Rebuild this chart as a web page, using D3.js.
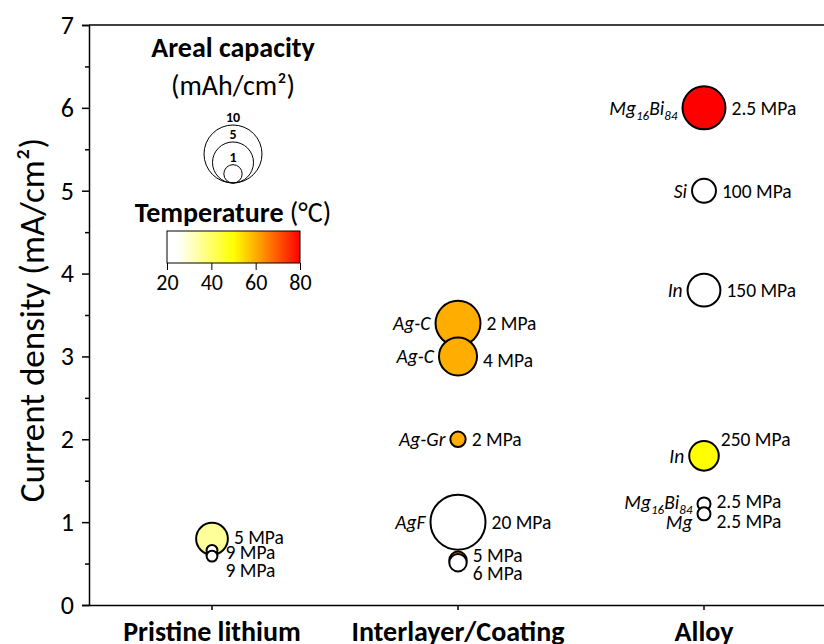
<!DOCTYPE html>
<html>
<head>
<meta charset="utf-8">
<script src="https://cdn.jsdelivr.net/npm/d3@7"></script>
<style>
  html, body { margin: 0; padding: 0; background: #fff; }
  svg { display: block; font-family: Calibri, Carlito, Lato, sans-serif; }
</style>
</head>
<body>
<svg id="chart" width="824" height="644"></svg>
<script>
// ---------------- data ----------------
const categories = ["Pristine lithium", "Interlayer/Coating", "Alloy"];
const pointCategory = [
  "Pristine lithium", "Pristine lithium", "Pristine lithium",
  "Interlayer/Coating", "Interlayer/Coating", "Interlayer/Coating", "Interlayer/Coating", "Interlayer/Coating", "Interlayer/Coating",
  "Alloy", "Alloy", "Alloy", "Alloy", "Alloy", "Alloy"
];
const currentDensity = [0.80, 0.66, 0.59, 3.40, 3.00, 2.00, 1.00, 0.54, 0.51, 6.00, 5.00, 3.80, 1.80, 1.22, 1.10];
const arealCapacity  = [3.0, 0.35, 0.35, 6.0, 4.3, 0.7, 9.0, 0.9, 0.9, 5.5, 1.7, 3.2, 2.6, 0.5, 0.5];
const temperature    = [35, 25, 25, 60, 60, 60, 25, 60, 25, 80, 25, 25, 50, 25, 25];
const pressureLabel  = ["5 MPa", "9 MPa", "9 MPa", "2 MPa", "4 MPa", "2 MPa", "20 MPa", "5 MPa", "6 MPa",
                        "2.5 MPa", "100 MPa", "150 MPa", "250 MPa", "2.5 MPa", "2.5 MPa"];
const materialLabel  = ["", "", "", "Ag-C", "Ag-C", "Ag-Gr", "AgF", "", "",
                        "Mg_16Bi_84", "Si", "In", "In", "Mg_16Bi_84", "Mg"];
const yTicks = [0, 1, 2, 3, 4, 5, 6, 7];
const capacityLegend = [10, 5, 1];
const tempTicks = [20, 40, 60, 80];

// label placement tweaks (layout only, px)
const labelNudge = { 0: [0, -2], 1: [2, 2], 2: [2, 14], 4: [0, 4], 7: [0, -5], 8: [0, 10],
                     12: [-4, -17], 13: [0, -3], 14: [0, 7] };
const materialNudge = { 13: -2, 14: 8 };

// ---------------- layout ----------------
const FONT = "Calibri, Carlito, Lato, sans-serif";
const svg = d3.select("#chart");
const M = { left: 89, top: 25, right: 827, bottom: 605 };

const x = d3.scaleBand().domain(categories).range([M.left, M.right]).padding(0);
const y = d3.scaleLinear().domain([0, 7]).range([M.bottom, M.top]);
const r = d3.scaleSqrt().domain([0, 10]).range([0, 29]);
const color = d3.scaleLinear()
  .domain([20, 25, 50, 60, 80])
  .range(["#ffffff", "#ffffff", "#ffff00", "#ffae00", "#ff0000"])
  .clamp(true);

// frame top line
svg.append("line")
  .attr("x1", M.left).attr("x2", M.right).attr("y1", M.top).attr("y2", M.top)
  .attr("stroke", "#000").attr("stroke-width", 1.5);

// y axis
const yAxis = d3.axisLeft(y).tickValues(yTicks).tickSize(7).tickPadding(8).tickFormat(d3.format("d"));
const gy = svg.append("g").attr("transform", `translate(${M.left},0)`).call(yAxis);
gy.select(".domain").attr("stroke-width", 1.5);
gy.selectAll(".tick line").attr("stroke-width", 1.5);
gy.selectAll(".tick text").attr("font-size", 26).attr("font-family", FONT).attr("fill", "#000");
const minorVals = d3.range(0.5, 7, 1);
svg.append("g").attr("transform", `translate(${M.left},0)`)
  .call(d3.axisLeft(y).tickValues(minorVals).tickSize(4).tickFormat(""))
  .call(g => g.select(".domain").remove())
  .selectAll(".tick line").attr("stroke-width", 1.5);

// x axis
const xAxis = d3.axisBottom(x).tickSize(5).tickSizeOuter(0).tickFormat("");
const gx = svg.append("g").attr("transform", `translate(0,${M.bottom})`).call(xAxis);
gx.select(".domain").attr("stroke-width", 1.5);
gx.selectAll(".tick line").attr("stroke-width", 1.5);
svg.append("g").selectAll("text").data(categories).join("text")
  .attr("x", d => x(d) + x.bandwidth() / 2)
  .attr("y", 641)
  .attr("text-anchor", "middle")
  .attr("font-size", 28).attr("font-weight", "bold")
  .text(d => d);

// y axis title
svg.append("text")
  .attr("transform", "translate(44,320) rotate(-90)")
  .attr("text-anchor", "middle")
  .attr("font-size", 35)
  .text("Current density (mA/cm²)");

// ---------------- bubbles ----------------
const pts = currentDensity.map((v, i) => ({
  i, cat: pointCategory[i], v, cap: arealCapacity[i], t: temperature[i],
  p: pressureLabel[i], m: materialLabel[i]
}));
const cx = d => x(d.cat) + x.bandwidth() / 2;

const gb = svg.append("g");
gb.selectAll("circle").data(pts).join("circle")
  .attr("cx", cx).attr("cy", d => y(d.v)).attr("r", d => r(d.cap))
  .attr("fill", d => color(d.t))
  .attr("stroke", "#000").attr("stroke-width", 2);

// pressure labels
gb.selectAll("text.p").data(pts).join("text").attr("class", "p")
  .attr("x", d => cx(d) + r(d.cap) + 6 + (labelNudge[d.i] ? labelNudge[d.i][0] : 0))
  .attr("y", d => y(d.v) + (labelNudge[d.i] ? labelNudge[d.i][1] : 0))
  .attr("dy", "0.35em")
  .attr("font-size", 19.5)
  .text(d => d.p);

// material labels with subscripts
function writeRich(sel, s) {
  const parts = s.split("_");
  parts.forEach((part, k) => {
    if (k === 0) { sel.append("tspan").text(part); return; }
    const m = part.match(/^(\d+)(.*)$/);
    if (m) {
      sel.append("tspan").attr("font-size", 13).attr("dy", 5).text(m[1]);
      sel.append("tspan").attr("dy", -5).text(m[2] || "");
    } else sel.append("tspan").text(part);
  });
}
gb.selectAll("text.m").data(pts.filter(d => d.m)).join("text").attr("class", "m")
  .attr("x", d => cx(d) - r(d.cap) - 5)
  .attr("y", d => y(d.v) + (materialNudge[d.i] || 0))
  .attr("dy", "0.35em")
  .attr("text-anchor", "end")
  .attr("font-size", 19.5).attr("font-style", "italic")
  .each(function (d) { writeRich(d3.select(this), d.m); });

// ---------------- size legend ----------------
const lg = svg.append("g");
lg.append("text").attr("x", 233).attr("y", 57).attr("text-anchor", "middle")
  .attr("font-size", 28).attr("font-weight", "bold").text("Areal capacity");
lg.append("text").attr("x", 233).attr("y", 95).attr("text-anchor", "middle")
  .attr("font-size", 28).text("(mAh/cm²)");
const lx = 233, lb = 183;
lg.selectAll("circle").data(capacityLegend).join("circle")
  .attr("cx", lx).attr("cy", d => lb - r(d)).attr("r", d => r(d))
  .attr("fill", "none").attr("stroke", "#000").attr("stroke-width", 1);
lg.selectAll("text.cl").data(capacityLegend).join("text").attr("class", "cl")
  .attr("x", lx).attr("y", d => lb - 2 * r(d) - 3)
  .attr("text-anchor", "middle").attr("font-size", 14).attr("font-weight", "bold")
  .text(d => d);

// ---------------- colour legend ----------------
const tl = svg.append("g");
const tt = tl.append("text").attr("x", 233).attr("y", 222).attr("text-anchor", "middle").attr("font-size", 28);
tt.append("tspan").attr("font-weight", "bold").text("Temperature");
tt.append("tspan").text(" (°C)");

const cScale = d3.scaleLinear().domain([20, 80]).range([167, 300]);
const defs = svg.append("defs");
const grad = defs.append("linearGradient").attr("id", "tgrad").attr("x1", "0%").attr("x2", "100%");
d3.range(20, 80.01, 2).forEach(t => {
  grad.append("stop").attr("offset", ((t - 20) / 60 * 100) + "%").attr("stop-color", color(t));
});
tl.append("rect").attr("x", 167).attr("y", 231).attr("width", 133).attr("height", 32)
  .attr("fill", "url(#tgrad)").attr("stroke", "#000").attr("stroke-width", 1);
const ca = tl.append("g").attr("transform", "translate(0,263)")
  .call(d3.axisBottom(cScale).tickValues(tempTicks).tickSize(7).tickPadding(4).tickSizeOuter(0));
ca.select(".domain").remove();
ca.selectAll("text").attr("font-size", 22).attr("font-family", FONT).attr("fill", "#000");
</script>
</body>
</html>
